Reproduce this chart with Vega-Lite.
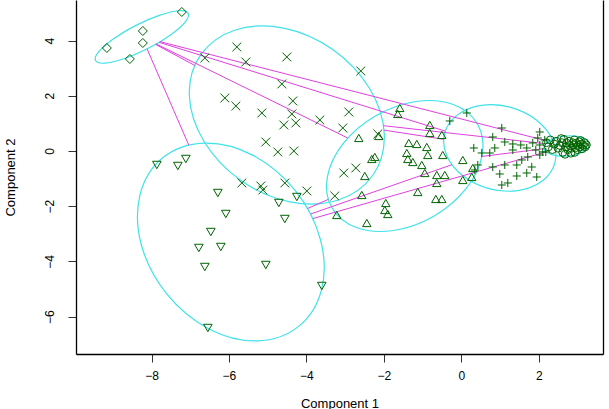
{
  "$schema": "https://vega.github.io/schema/vega-lite/v6.json",
  "width": 527,
  "height": 354,
  "autosize": {"type": "none"},
  "padding": {"left": 76, "top": 0, "right": 6, "bottom": 55},
  "background": "white",
  "config": {
    "view": {"stroke": null},
    "axis": {"grid": false, "domainColor": "#000000", "domainWidth": 1.3, "tickColor": "#333333", "tickWidth": 1, "tickSize": 8, "labelFont": "Liberation Sans", "labelFontSize": 12, "labelColor": "#000000", "titleFont": "Liberation Sans", "titleFontSize": 13, "titleFontWeight": "normal", "titleColor": "#000000"}
  },
  "datasets": {
    "ell": [
      {"c":"A","i":0,"x":-7.054,"y":4.986},{"c":"A","i":1,"x":-7.137,"y":4.663},{"c":"A","i":2,"x":-7.519,"y":4.196},{"c":"A","i":3,"x":-8.097,"y":3.710},{"c":"A","i":4,"x":-8.714,"y":3.341},{"c":"A","i":5,"x":-9.210,"y":3.181},{"c":"A","i":6,"x":-9.445,"y":3.275},{"c":"A","i":7,"x":-9.362,"y":3.598},{"c":"A","i":8,"x":-8.980,"y":4.065},{"c":"A","i":9,"x":-8.402,"y":4.551},{"c":"A","i":10,"x":-7.782,"y":4.920},{"c":"A","i":11,"x":-7.289,"y":5.080},
      {"c":"B","i":0,"x":-2.285,"y":-0.880},{"c":"B","i":1,"x":-3.176,"y":-1.775},{"c":"B","i":2,"x":-4.423,"y":-1.844},{"c":"B","i":3,"x":-5.691,"y":-1.069},{"c":"B","i":4,"x":-6.643,"y":0.344},{"c":"B","i":5,"x":-7.023,"y":2.007},{"c":"B","i":6,"x":-6.726,"y":3.489},{"c":"B","i":7,"x":-5.835,"y":4.384},{"c":"B","i":8,"x":-4.588,"y":4.453},{"c":"B","i":9,"x":-3.320,"y":3.678},{"c":"B","i":10,"x":-2.368,"y":2.264},{"c":"B","i":11,"x":-1.988,"y":0.601},
      {"c":"C","i":0,"x":-4.201,"y":-6.355},{"c":"C","i":1,"x":-5.265,"y":-6.880},{"c":"C","i":2,"x":-6.514,"y":-6.446},{"c":"C","i":3,"x":-7.612,"y":-5.167},{"c":"C","i":4,"x":-8.265,"y":-3.388},{"c":"C","i":5,"x":-8.296,"y":-1.583},{"c":"C","i":6,"x":-7.702,"y":-0.239},{"c":"C","i":7,"x":-6.638,"y":0.286},{"c":"C","i":8,"x":-5.389,"y":-0.149},{"c":"C","i":9,"x":-4.291,"y":-1.428},{"c":"C","i":10,"x":-3.638,"y":-3.207},{"c":"C","i":11,"x":-3.607,"y":-5.011},
      {"c":"D","i":0,"x":0.418,"y":0.978},{"c":"D","i":1,"x":0.542,"y":-0.134},{"c":"D","i":2,"x":0.129,"y":-1.359},{"c":"D","i":3,"x":-0.710,"y":-2.362},{"c":"D","i":4,"x":-1.751,"y":-2.880},{"c":"D","i":5,"x":-2.711,"y":-2.772},{"c":"D","i":6,"x":-3.336,"y":-2.065},{"c":"D","i":7,"x":-3.460,"y":-0.953},{"c":"D","i":8,"x":-3.047,"y":0.272},{"c":"D","i":9,"x":-2.208,"y":1.275},{"c":"D","i":10,"x":-1.167,"y":1.793},{"c":"D","i":11,"x":-0.207,"y":1.685},
      {"c":"E","i":0,"x":2.417,"y":-0.428},{"c":"E","i":1,"x":2.086,"y":-1.091},{"c":"E","i":2,"x":1.461,"y":-1.435},{"c":"E","i":3,"x":0.713,"y":-1.362},{"c":"E","i":4,"x":0.041,"y":-0.899},{"c":"E","i":5,"x":-0.377,"y":-0.163},{"c":"E","i":6,"x":-0.429,"y":0.645},{"c":"E","i":7,"x":-0.098,"y":1.308},{"c":"E","i":8,"x":0.527,"y":1.652},{"c":"E","i":9,"x":1.275,"y":1.580},{"c":"E","i":10,"x":1.947,"y":1.116},{"c":"E","i":11,"x":2.365,"y":0.380},
      {"c":"F","i":0,"x":3.315,"y":0.254},{"c":"F","i":1,"x":3.246,"y":0.062},{"c":"F","i":2,"x":3.042,"y":-0.094},{"c":"F","i":3,"x":2.747,"y":-0.181},{"c":"F","i":4,"x":2.448,"y":-0.167},{"c":"F","i":5,"x":2.223,"y":-0.062},{"c":"F","i":6,"x":2.133,"y":0.109},{"c":"F","i":7,"x":2.202,"y":0.301},{"c":"F","i":8,"x":2.409,"y":0.457},{"c":"F","i":9,"x":2.701,"y":0.543},{"c":"F","i":10,"x":3.003,"y":0.529},{"c":"F","i":11,"x":3.225,"y":0.424}
    ],
    "seg": [
      {"p":"A-B","x":-7.896,"y":3.862,"x2":-6.881,"y2":3.098},
      {"p":"A-C","x":-8.115,"y":3.699,"x2":-7.039,"y2":0.217},
      {"p":"A-D","x":-7.878,"y":3.877,"x2":-2.928,"y2":0.467},
      {"p":"A-E","x":-7.805,"y":3.938,"x2":-0.408,"y2":0.717},
      {"p":"A-F","x":-7.777,"y":3.960,"x2":2.236,"y2":0.355},
      {"p":"B-E","x":-1.998,"y":0.757,"x2":-0.452,"y2":0.424},
      {"p":"B-F","x":-2.011,"y":0.917,"x2":2.177,"y2":0.264},
      {"p":"C-D","x":-3.969,"y":-2.083,"x2":-3.434,"y2":-1.754},
      {"p":"C-E","x":-3.891,"y":-2.283,"x2":-0.240,"y2":-0.496},
      {"p":"C-F","x":-3.834,"y":-2.449,"x2":2.192,"y2":-0.033},
      {"p":"D-F","x":0.537,"y":-0.196,"x2":2.133,"y2":0.080}
    ],
    "pts": [
      {"c":"A","x":-9.153,"y":3.732},{"c":"A","x":-8.224,"y":4.348},{"c":"A","x":-8.224,"y":3.913},{"c":"A","x":-8.559,"y":3.333},{"c":"A","x":-7.217,"y":5.036},
      {"c":"B","x":-5.797,"y":3.768},{"c":"B","x":-6.623,"y":3.370},{"c":"B","x":-5.564,"y":3.225},{"c":"B","x":-4.506,"y":3.406},{"c":"B","x":-2.595,"y":2.899},{"c":"B","x":-4.635,"y":2.428},{"c":"B","x":-6.106,"y":1.920},{"c":"B","x":-5.822,"y":1.630},{"c":"B","x":-4.351,"y":1.812},{"c":"B","x":-5.151,"y":1.377},{"c":"B","x":-4.376,"y":1.341},{"c":"B","x":-4.583,"y":0.942},{"c":"B","x":-4.273,"y":1.014},{"c":"B","x":-3.653,"y":1.123},{"c":"B","x":-2.905,"y":1.413},{"c":"B","x":-3.060,"y":0.833},{"c":"B","x":-5.048,"y":0.326},{"c":"B","x":-4.738,"y":-0.036},{"c":"B","x":-4.325,"y":0.000},{"c":"B","x":-5.667,"y":-1.159},{"c":"B","x":-5.177,"y":-1.268},{"c":"B","x":-5.125,"y":-1.413},{"c":"B","x":-4.557,"y":-1.159},{"c":"B","x":-3.989,"y":-1.449},{"c":"B","x":-3.266,"y":-1.630},{"c":"B","x":-3.034,"y":-0.797},{"c":"B","x":-2.724,"y":-0.616},{"c":"B","x":-2.156,"y":0.616},
      {"c":"C","x":-7.862,"y":-0.507},{"c":"C","x":-7.320,"y":-0.543},{"c":"C","x":-7.113,"y":-0.290},{"c":"C","x":-6.287,"y":-1.522},{"c":"C","x":-6.081,"y":-2.283},{"c":"C","x":-6.468,"y":-2.935},{"c":"C","x":-6.778,"y":-3.514},{"c":"C","x":-6.210,"y":-3.478},{"c":"C","x":-6.623,"y":-4.203},{"c":"C","x":-5.048,"y":-4.130},{"c":"C","x":-4.712,"y":-1.884},{"c":"C","x":-4.557,"y":-2.464},{"c":"C","x":-4.247,"y":-1.667},{"c":"C","x":-3.602,"y":-4.891},{"c":"C","x":-6.545,"y":-6.413},
      {"c":"D","x":-1.588,"y":1.558},{"c":"D","x":-1.640,"y":1.341},{"c":"D","x":-0.813,"y":0.942},{"c":"D","x":-0.813,"y":0.652},{"c":"D","x":-0.503,"y":0.580},{"c":"D","x":-2.647,"y":0.471},{"c":"D","x":-2.130,"y":0.543},{"c":"D","x":-1.356,"y":0.290},{"c":"D","x":-1.149,"y":0.254},{"c":"D","x":-0.891,"y":0.145},{"c":"D","x":-1.407,"y":-0.072},{"c":"D","x":-0.865,"y":-0.145},{"c":"D","x":-0.478,"y":-0.145},{"c":"D","x":-2.233,"y":-0.217},{"c":"D","x":-2.311,"y":-0.290},{"c":"D","x":-1.381,"y":-0.290},{"c":"D","x":-1.252,"y":-0.399},{"c":"D","x":-1.020,"y":-0.507},{"c":"D","x":0.039,"y":-0.326},{"c":"D","x":-2.492,"y":-0.906},{"c":"D","x":-0.633,"y":-0.870},{"c":"D","x":-0.426,"y":-0.870},{"c":"D","x":-0.942,"y":-0.797},{"c":"D","x":-0.633,"y":-1.159},{"c":"D","x":0.039,"y":-1.051},{"c":"D","x":0.271,"y":-0.942},{"c":"D","x":0.297,"y":-0.616},{"c":"D","x":-2.569,"y":-1.594},{"c":"D","x":-1.123,"y":-1.486},{"c":"D","x":-1.949,"y":-1.884},{"c":"D","x":-1.975,"y":-2.138},{"c":"D","x":-1.898,"y":-2.283},{"c":"D","x":-0.503,"y":-1.739},{"c":"D","x":-0.658,"y":-1.739},{"c":"D","x":-3.215,"y":-2.319},{"c":"D","x":-2.440,"y":-2.609},
      {"c":"E","x":0.142,"y":1.377},{"c":"E","x":-0.297,"y":1.087},{"c":"E","x":1.046,"y":0.833},{"c":"E","x":0.813,"y":0.507},{"c":"E","x":2.027,"y":0.688},{"c":"E","x":1.123,"y":0.326},{"c":"E","x":1.330,"y":0.254},{"c":"E","x":1.536,"y":0.217},{"c":"E","x":0.323,"y":0.109},{"c":"E","x":0.865,"y":0.109},{"c":"E","x":0.529,"y":-0.072},{"c":"E","x":0.736,"y":-0.072},{"c":"E","x":1.691,"y":0.109},{"c":"E","x":1.846,"y":0.290},{"c":"E","x":2.027,"y":0.217},{"c":"E","x":1.330,"y":0.036},{"c":"E","x":1.717,"y":-0.217},{"c":"E","x":1.562,"y":-0.326},{"c":"E","x":1.433,"y":-0.507},{"c":"E","x":0.813,"y":-0.580},{"c":"E","x":1.123,"y":-0.507},{"c":"E","x":1.820,"y":-0.580},{"c":"E","x":0.994,"y":-0.833},{"c":"E","x":1.433,"y":-0.906},{"c":"E","x":1.691,"y":-0.797},{"c":"E","x":1.949,"y":-0.942},{"c":"E","x":1.046,"y":-1.232},{"c":"E","x":1.201,"y":-1.159},{"c":"E","x":0.426,"y":-0.507},{"c":"E","x":0.349,"y":-0.688},{"c":"E","x":2.104,"y":-0.036},{"c":"E","x":1.975,"y":0.471},{"c":"E","x":1.924,"y":0.036},{"c":"E","x":2.156,"y":0.399},{"c":"E","x":2.027,"y":-0.145},{"c":"E","x":2.182,"y":-0.036},
      {"c":"F","x":2.20,"y":0.30},{"c":"F","x":2.25,"y":0.15},{"c":"F","x":2.30,"y":0.40},{"c":"F","x":2.35,"y":0.05},{"c":"F","x":2.40,"y":0.25},{"c":"F","x":2.45,"y":0.35},{"c":"F","x":2.50,"y":0.10},{"c":"F","x":2.55,"y":0.20},{"c":"F","x":2.60,"y":0.30},{"c":"F","x":2.62,"y":-0.05},{"c":"F","x":2.65,"y":0.42},{"c":"F","x":2.70,"y":0.15},{"c":"F","x":2.72,"y":0.28},{"c":"F","x":2.75,"y":0.05},{"c":"F","x":2.78,"y":0.35},{"c":"F","x":2.80,"y":0.20},{"c":"F","x":2.83,"y":-0.08},{"c":"F","x":2.85,"y":0.10},{"c":"F","x":2.88,"y":0.30},{"c":"F","x":2.90,"y":0.22},{"c":"F","x":2.92,"y":0.40},{"c":"F","x":2.95,"y":0.12},{"c":"F","x":2.97,"y":0.28},{"c":"F","x":3.00,"y":0.05},{"c":"F","x":3.02,"y":0.20},{"c":"F","x":3.05,"y":0.33},{"c":"F","x":3.07,"y":0.15},{"c":"F","x":3.10,"y":0.25},{"c":"F","x":3.12,"y":0.08},{"c":"F","x":3.15,"y":0.20},{"c":"F","x":3.18,"y":0.30},{"c":"F","x":3.20,"y":0.15},{"c":"F","x":3.23,"y":0.22},{"c":"F","x":2.58,"y":0.45},{"c":"F","x":2.68,"y":-0.12},{"c":"F","x":2.93,"y":-0.05},{"c":"F","x":3.08,"y":0.38}
    ]
  },
  "resolve": {"axis": {"y": "independent"}},
  "layer": [
    {
      "data": {"name": "ell"},
      "mark": {"type": "line", "interpolate": "cardinal-closed", "color": "#3EE2E8", "strokeWidth": 1.2},
      "encoding": {
        "x": {"field": "x", "type": "quantitative", "scale": {"domain": [-9.95, 3.66], "nice": false, "zero": false},
              "axis": {"values": [-8, -6, -4, -2, 0, 2], "title": "Component 1", "labelPadding": 8, "titlePadding": 16}},
        "y": {"field": "y", "type": "quantitative", "scale": {"domain": [-7.355, 5.47], "nice": false, "zero": false},
              "axis": {"values": [-6, -4, -2, 0, 2, 4], "title": "Component 2", "labelAngle": 270, "labelPadding": 12, "titlePadding": 26}},
        "detail": {"field": "c"},
        "order": {"field": "i", "type": "quantitative"}
      }
    },
    {
      "data": {"name": "seg"},
      "mark": {"type": "rule", "color": "#E040E0", "strokeWidth": 1},
      "encoding": {
        "x": {"field": "x", "type": "quantitative", "scale": {"domain": [-9.95, 3.66], "nice": false, "zero": false}},
        "y": {"field": "y", "type": "quantitative", "scale": {"domain": [-7.355, 5.47], "nice": false, "zero": false},
              "axis": {"orient": "right", "labels": false, "ticks": false, "title": null, "values": []}},
        "x2": {"field": "x2"},
        "y2": {"field": "y2"}
      }
    },
    {
      "data": {"name": "pts"},
      "mark": {"type": "point", "filled": false, "strokeWidth": 1, "opacity": 1},
      "encoding": {
        "x": {"field": "x", "type": "quantitative", "scale": {"domain": [-9.95, 3.66], "nice": false, "zero": false}},
        "y": {"field": "y", "type": "quantitative", "scale": {"domain": [-7.355, 5.47], "nice": false, "zero": false}, "axis": null},
        "shape": {"field": "c", "type": "nominal", "legend": null,
                  "scale": {"domain": ["A", "B", "C", "D", "E", "F"], "range": ["diamond", "M-1,-1L1,1M-1,1L1,-1", "triangle-down", "triangle-up", "M-1,0L1,0M0,-1L0,1", "circle"]}},
        "size": {"field": "c", "type": "ordinal", "legend": null,
                 "scale": {"domain": ["A", "B", "C", "D", "E", "F"], "range": [81, 62, 100, 100, 100, 50]}},
        "color": {"value": "#006400"}
      }
    }
  ]
}
